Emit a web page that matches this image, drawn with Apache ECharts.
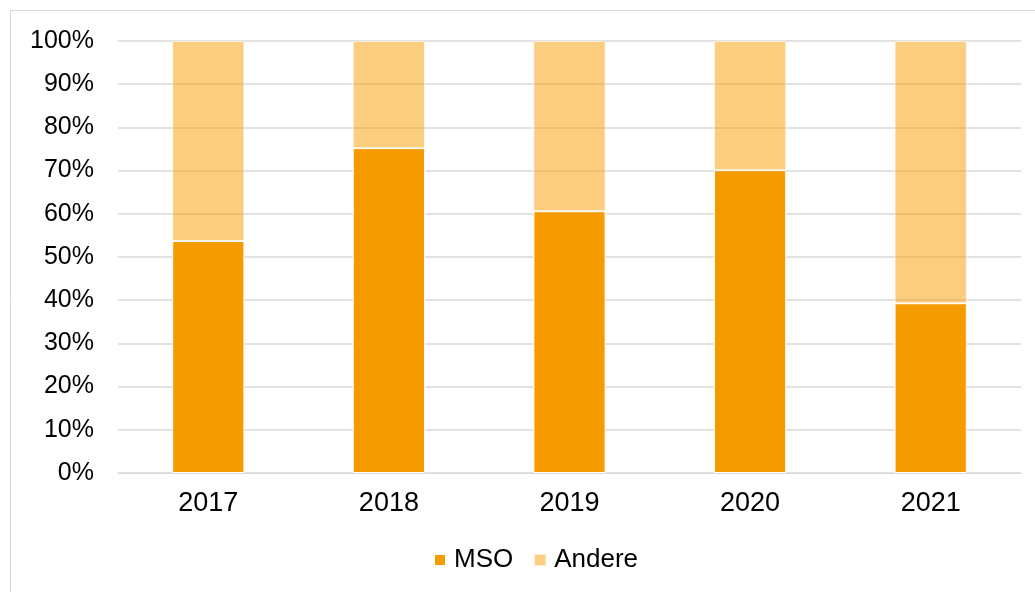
<!DOCTYPE html>
<html>
<head>
<meta charset="utf-8">
<script src="https://cdn.jsdelivr.net/npm/echarts@6/dist/echarts.min.js"></script>
<style>
  html, body { margin: 0; padding: 0; background: #fff; }
  #chart { width: 1035px; height: 592px; }
</style>
</head>
<body>
<div id="chart"></div>
<script>
var years = ['2017', '2018', '2019', '2020', '2021'];
var mso = [53.7, 75.2, 60.6, 70.1, 39.3];
var andere = [46.3, 24.8, 39.4, 29.9, 60.7];

var chart = echarts.init(document.getElementById('chart'));

var option = {
    animation: false,
    textStyle: { fontFamily: 'Liberation Sans, Arial, sans-serif' },
    graphic: [{
        type: 'rect',
        shape: { x: 10.5, y: 10.5, width: 1040, height: 600 },
        style: { fill: 'none', stroke: '#d9d9d9', lineWidth: 1 },
        silent: true
    }],
    grid: { left: 118, right: 14, top: 41, bottom: 119 },
    legend: {
        top: 542,
        left: 428,
        icon: 'rect',
        itemWidth: 12,
        itemHeight: 12,
        itemGap: 20,
        textStyle: { fontSize: 26, color: '#000', padding: [0, 0, 0, 3] },
        data: ['MSO', 'Andere']
    },
    xAxis: {
        type: 'category',
        data: years,
        axisTick: { show: false },
        axisLine: { lineStyle: { color: '#d9d9d9', width: 1 } },
        axisLabel: { fontSize: 27, color: '#000', margin: 17 }
    },
    yAxis: {
        type: 'value',
        min: 0,
        max: 100,
        interval: 10,
        axisLabel: { fontSize: 25, color: '#000', margin: 24, formatter: '{value}%' },
        splitLine: { lineStyle: { color: '#d9d9d9', width: 1.5 } }
    },
    series: [
        {
            name: 'MSO',
            type: 'bar',
            stack: 'total',
            barWidth: '40%',
            data: mso,
            itemStyle: { color: '#f59b00', borderColor: '#fff', borderWidth: 1 }
        },
        {
            name: 'Andere',
            type: 'bar',
            stack: 'total',
            data: andere,
            itemStyle: { color: 'rgba(245,155,0,0.5)', borderColor: 'rgba(255,255,255,0.6)', borderWidth: 1 }
        }
    ]
};
chart.setOption(option);
</script>
</body>
</html>
